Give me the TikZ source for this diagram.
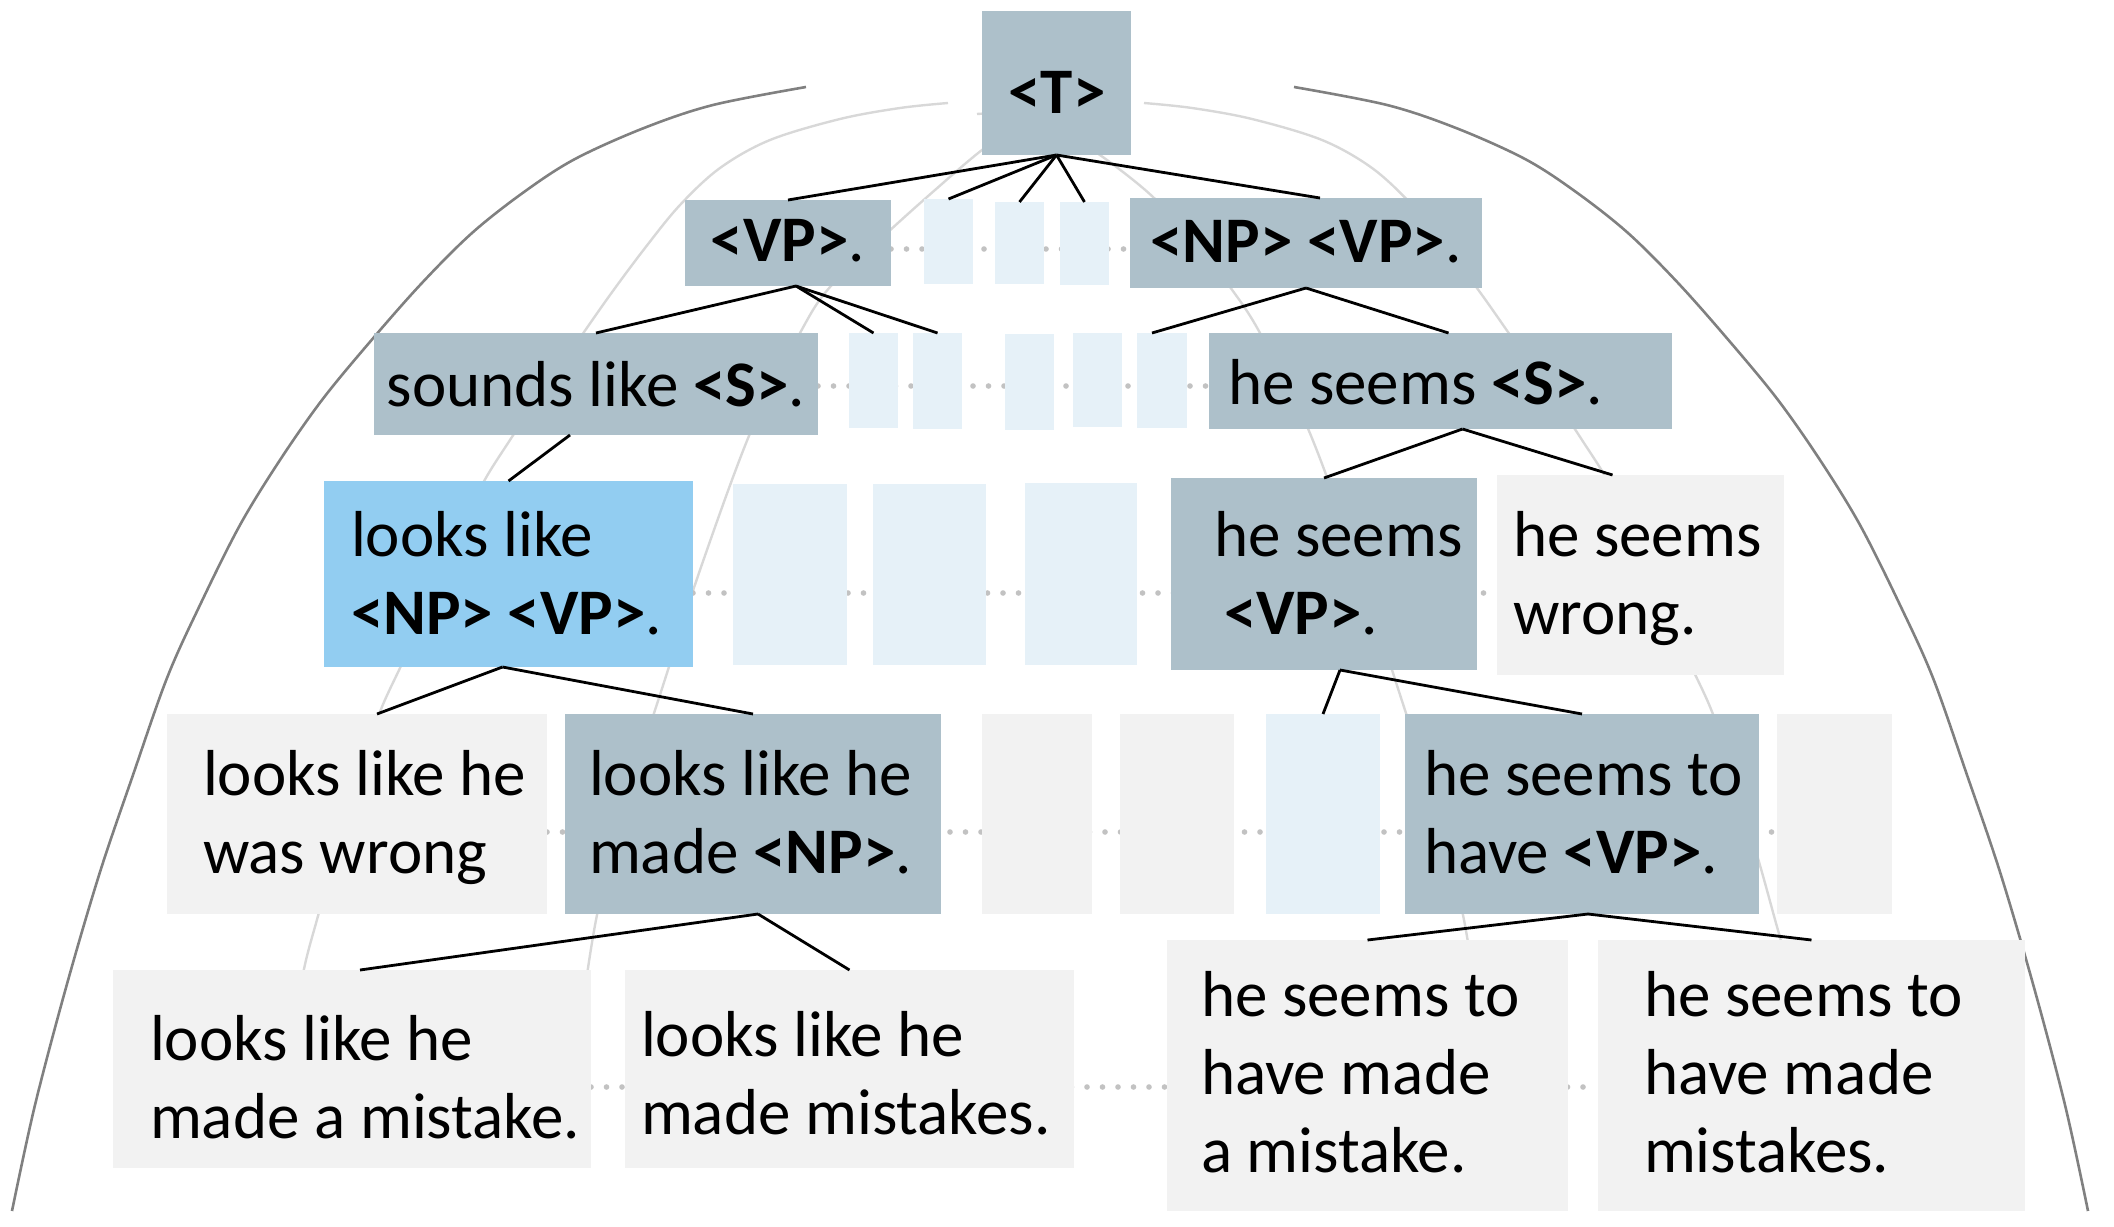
\documentclass[tikz,border=0pt]{standalone}
\usepackage{fontspec}
\setmainfont{Carlito}
\usetikzlibrary{calc}
\definecolor{gb}{RGB}{173,192,202}
\definecolor{bl}{RGB}{146,205,241}
\definecolor{lb}{RGB}{230,241,248}
\definecolor{lg}{RGB}{242,242,242}
\definecolor{dotc}{RGB}{194,194,194}
\definecolor{arcd}{RGB}{128,128,128}
\definecolor{arcl}{RGB}{216,216,216}
\pgfdeclarelayer{bg}
\pgfsetlayers{bg,main}
\newcommand\mybox[6]{\node[#1, minimum width={(#4-#2)*0.5pt}, minimum height={(#5-#3)*0.5pt}] (#6) at ({(#2+#4)/2},{(#3+#5)/2}) {};}
\begin{document}
\begin{tikzpicture}[x=0.5pt,y=-0.5pt,
  basebox/.style={inner sep=0pt, outer sep=0pt, draw=none, rectangle},
  gbox/.style={basebox, fill=gb},
  blbox/.style={basebox, fill=bl},
  lbbox/.style={basebox, fill=lb},
  lgbox/.style={basebox, fill=lg},
  txt/.style={inner sep=0pt, outer sep=0pt, font=\fontsize{32.5}{39}\selectfont, align=left, execute at begin node=\strut},
  link/.style={draw=black, line width=1.4pt},
  dotrow/.style={draw=dotc, line width=2.8pt, line cap=round, dash pattern=on 0pt off 7.75pt},
  darkarc/.style={draw=arcd, line width=1.3pt},
  lightarc/.style={draw=arcl, line width=1.2pt}]
\useasboundingbox (0,0) rectangle (2114,1226);

% ---------- boxes ----------
\mybox{gbox}{982}{11}{1131}{155}{T}
% row 1
\mybox{gbox}{685}{200}{891}{286}{VP}
\mybox{lbbox}{924}{199}{973}{284}{L1a}
\mybox{lbbox}{995}{202}{1044}{284}{L1b}
\mybox{lbbox}{1060}{202}{1109}{285}{L1c}
\mybox{gbox}{1130}{198}{1482}{288}{NPVP}
% row 2
\mybox{gbox}{374}{333}{818}{435}{SL}
\mybox{lbbox}{849}{333}{898}{428}{L2a}
\mybox{lbbox}{913}{333}{962}{429}{L2b}
\mybox{lbbox}{1005}{334}{1054}{430}{L2c}
\mybox{lbbox}{1073}{333}{1122}{427}{L2d}
\mybox{lbbox}{1137}{333}{1187}{428}{L2e}
\mybox{gbox}{1209}{333}{1672}{429}{HS}
% row 3
\mybox{blbox}{324}{481}{693}{667}{LL}
\mybox{lbbox}{733}{484}{847}{665}{L3a}
\mybox{lbbox}{873}{484}{986}{665}{L3b}
\mybox{lbbox}{1025}{483}{1137}{665}{L3c}
\mybox{gbox}{1171}{478}{1477}{670}{HSV}
\mybox{lgbox}{1497}{475}{1784}{675}{HSW}
% row 4
\mybox{lgbox}{167}{714}{547}{914}{WW}
\mybox{gbox}{565}{714}{941}{914}{MN}
\mybox{lgbox}{982}{714}{1092}{914}{G4a}
\mybox{lgbox}{1120}{714}{1234}{914}{G4b}
\mybox{lbbox}{1266}{714}{1380}{914}{B4}
\mybox{gbox}{1405}{714}{1759}{914}{HTV}
\mybox{lgbox}{1777}{714}{1892}{914}{G4c}
% row 5
\mybox{lgbox}{113}{970}{591}{1168}{MAM}
\mybox{lgbox}{625}{970}{1074}{1168}{MM}
\mybox{lgbox}{1167}{940}{1568}{1211}{HAM}
\mybox{lgbox}{1598}{940}{2025}{1211}{HMS}

% ---------- background: arcs and dotted rows ----------
\begin{pgfonlayer}{bg}
\draw[darkarc] plot[smooth, tension=0.55] coordinates {(806,87) (713,105) (644,128) (575,159) (524,192) (472,233) (421,284) (369,343) (322,400) (280,460) (240,525) (200,605) (167,678) (133,775) (100,872) (67,984) (35,1105) (12,1211)};
\draw[darkarc] plot[smooth, tension=0.55] coordinates {(1294,87) (1387,105) (1456,128) (1525,159) (1576,192) (1628,233) (1679,284) (1731,343) (1778,400) (1820,460) (1860,525) (1900,605) (1933,678) (1967,775) (2000,872) (2033,984) (2065,1105) (2088,1211)};
\draw[lightarc] plot[smooth, tension=0.55] coordinates {(948,103) (900,108) (840,119) (770,140) (720,168) (680,205) (645,248) (610,295) (575,345) (540,395) (510,440) (482,485) (455,545) (428,610) (400,668) (378,717) (355,790) (335,855) (318,916) (304,969) (292,1040)};
\draw[lightarc] plot[smooth, tension=0.55] coordinates {(1144,103) (1192,108) (1252,119) (1322,140) (1372,168) (1412,205) (1447,248) (1482,295) (1517,345) (1552,395) (1582,440) (1610,485) (1637,545) (1664,610) (1692,668) (1714,717) (1737,790) (1757,855) (1774,916) (1788,969) (1800,1040)};
\draw[lightarc] plot[smooth, tension=0.55] coordinates {(1083,114) (1055,114) (1020,125) (982,150) (935,190) (887,233) (830,287) (800,333) (751,431) (700,570) (667,673) (630,790) (597,915) (578,1040)};
\draw[lightarc] plot[smooth, tension=0.55] coordinates {(977,114) (1005,114) (1040,124) (1075,140) (1107,160) (1153,197) (1195,243) (1230,287) (1260,333) (1309,431) (1360,570) (1393,673) (1430,790) (1463,915) (1482,1040)};
\coordinate (r1) at (0,249);
\coordinate (r2) at (0,386);
\coordinate (r3) at (0,593);
\coordinate (r4) at (0,832);
\coordinate (r5) at (0,1087);
\draw[dotrow] (VP.east |- r1) -- (NPVP.west |- r1);
\draw[dotrow] (SL.east |- r2) -- (HS.west |- r2);
\draw[dotrow] (LL.east |- r3) -- (HSW.west |- r3);
\draw[dotrow] (WW.east |- r4) -- (G4c.west |- r4);
\draw[dotrow] (MAM.east |- r5) -- (HMS.west |- r5);
\end{pgfonlayer}

% ---------- texts ----------
\node[txt, anchor=base] (tT) at (1057,113) {\textbf{<T>}};
\node[txt, anchor=base] (tVP) at (788,261) {\textbf{<VP>}.};
\node[txt, anchor=base] (tNPVP) at (1306,262) {\textbf{<NP> <VP>}.};
\node[txt, anchor=base] (tSL) at (596,406) {sounds like \textbf{<S>}.};
\node[txt, anchor=base west] (tHS) at (1228,404) {he seems \textbf{<S>}.};
\node[txt, anchor=north west] (tLL) at (351,511) {looks like\\\textbf{<NP> <VP>}.};
\node[txt, anchor=north west] (tHSV) at (1214,511) {he seems\\\hspace*{5pt}\textbf{<VP>}.};
\node[txt, anchor=north west] (tHSW) at (1513,511) {he seems\\wrong.};
\node[txt, anchor=north west] (tWW) at (203,750) {looks like he\\was wrong};
\node[txt, anchor=north west] (tMN) at (589,750) {looks like he\\made \textbf{<NP>}.};
\node[txt, anchor=north west] (tHTV) at (1424,750) {he seems to\\have \textbf{<VP>}.};
\node[txt, anchor=north west] (tMAM) at (150,1015) {looks like he\\made a mistake.};
\node[txt, anchor=north west] (tMM) at (641,1011) {looks like he\\made mistakes.};
\node[txt, anchor=north west] (tHAM) at (1201,971) {he seems to\\have made\\a mistake.};
\node[txt, anchor=north west] (tHMS) at (1644,971) {he seems to\\have made\\mistakes.};

% ---------- connectors ----------
\draw[link] (T.south) -- (VP.north);
\draw[link] (T.south) -- (L1a.north);
\draw[link] (T.south) -- (L1b.north);
\draw[link] (T.south) -- (L1c.north);
\draw[link] (T.south) -- ($(NPVP.north)+(14,0)$);
\draw[link] ($(VP.south)+(8,0)$) -- (SL.north);
\draw[link] ($(VP.south)+(8,0)$) -- (L2a.north);
\draw[link] ($(VP.south)+(8,0)$) -- (L2b.north);
\draw[link] (NPVP.south) -- ($(L2e.north)+(-10,0)$);
\draw[link] (NPVP.south) -- ($(HS.north)+(8,0)$);
\draw[link] ($(SL.south)+(-26,0)$) -- (LL.north);
\draw[link] ($(HS.south)+(22,0)$) -- (HSV.north);
\draw[link] ($(HS.south)+(22,0)$) -- ($(HSW.north)+(-28,0)$);
\draw[link] ($(LL.south)+(-6,0)$) -- ($(WW.north)+(20,0)$);
\draw[link] ($(LL.south)+(-6,0)$) -- (MN.north);
\draw[link] ($(MN.south)+(5,0)$) -- ($(MAM.north)+(8,0)$);
\draw[link] ($(MN.south)+(5,0)$) -- (MM.north);
\draw[link] ($(HSV.south)+(16,0)$) -- (B4.north);
\draw[link] ($(HSV.south)+(16,0)$) -- (HTV.north);
\draw[link] ($(HTV.south)+(6,0)$) -- (HAM.north);
\draw[link] ($(HTV.south)+(6,0)$) -- (HMS.north);
\end{tikzpicture}
\end{document}
